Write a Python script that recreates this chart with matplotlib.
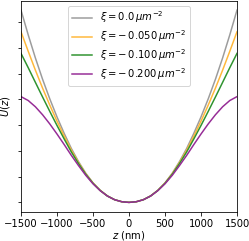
import matplotlib
matplotlib.use('Agg')
import matplotlib.pyplot as plt
import numpy as np

# half profile, z >= 0 (nm); curves are symmetric about z = 0
z_half = [0, 100, 200, 300, 400, 500, 600, 700, 800, 900, 1000,
          1100, 1200, 1300, 1400, 1500]
u_xi_000 = [0, 0.025, 0.105, 0.25, 0.47, 0.76, 1.13, 1.58, 2.09, 2.68, 3.32,
            4.02, 4.78, 5.61, 6.51, 7.47]
u_xi_050 = [0, 0.025, 0.105, 0.249, 0.466, 0.751, 1.110, 1.541, 2.023, 2.571, 3.154,
            3.777, 4.436, 5.136, 5.872, 6.630]
u_xi_100 = [0, 0.025, 0.105, 0.248, 0.462, 0.741, 1.089, 1.503, 1.956, 2.463, 2.988,
            3.534, 4.092, 4.662, 5.234, 5.789]
u_xi_200 = [0, 0.025, 0.104, 0.246, 0.455, 0.722, 1.049, 1.425, 1.822, 2.246, 2.656,
            3.047, 3.403, 3.714, 3.958, 4.109]

labels = [r'$\xi = 0.0\,\mu m^{-2}$',
          r'$\xi = -\,0.050\,\mu m^{-2}$',
          r'$\xi = -\,0.100\,\mu m^{-2}$',
          r'$\xi = -\,0.200\,\mu m^{-2}$']
colors = ['#9c9c9c', '#ffb83a', '#2e932e', '#962c96']
x_ticks = [-1500, -1000, -500, 0, 500, 1000, 1500]


def _mirror(v):
    v = np.asarray(v, dtype=float)
    return np.concatenate([v[::-1], v[1:]])


def main():
    z = np.concatenate([-np.asarray(z_half[::-1]), np.asarray(z_half[1:])])
    series = [u_xi_000, u_xi_050, u_xi_100, u_xi_200]

    fig = plt.figure(figsize=(249 / 72, 241 / 72), dpi=72)
    ax = fig.add_axes([21 / 249, 29 / 241, 216 / 249, 211.5 / 241])

    for u, lab, c in zip(series, labels, colors):
        ax.plot(z, _mirror(u), color=c, lw=1.5, label=lab)

    ax.set_xlim(-1500, 1500)
    ax.set_xticks(x_ticks)
    ax.set_yticks(range(8))
    ax.set_yticklabels([])
    ax.set_xlabel(r'$z$ (nm)', labelpad=0.5)
    ax.set_ylabel(r'$U(z)$', labelpad=2.5)
    ax.legend(loc='upper center', fontsize=10, labelspacing=0.3)

    fig.savefig('out.png', dpi=72)


if __name__ == '__main__':
    main()
